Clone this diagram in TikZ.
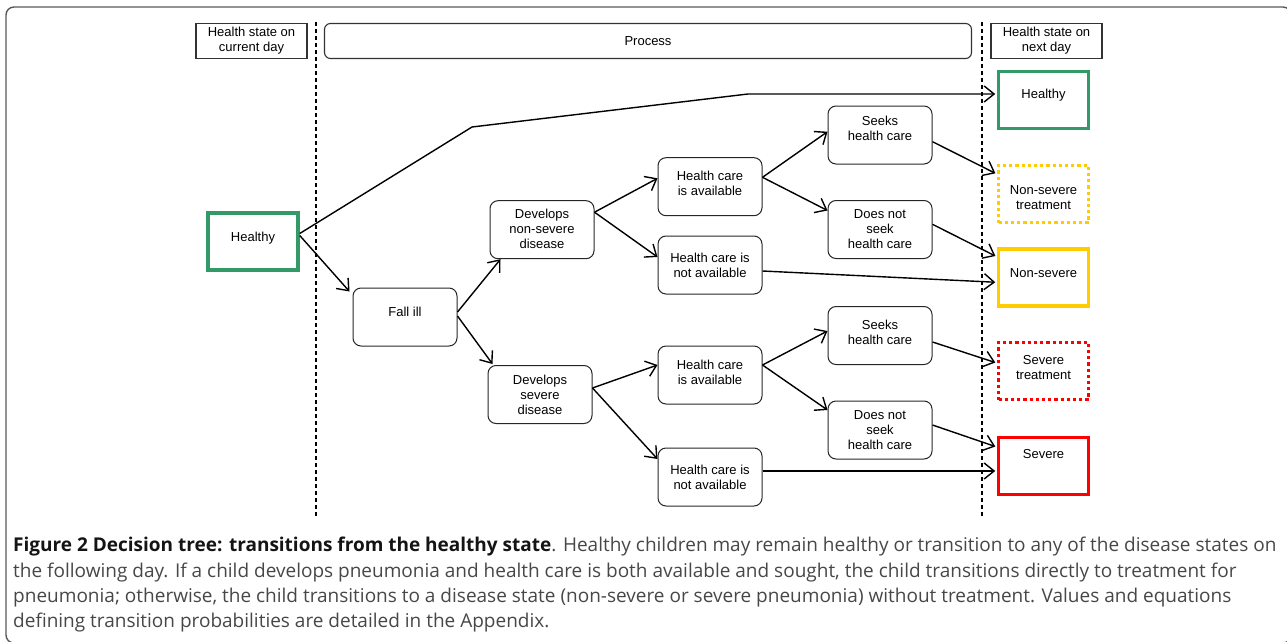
\documentclass[tikz,border=0pt]{standalone}
\usepackage{fontspec}
\setmainfont{Liberation Sans}
\newfontfamily\capfont{Open Sans}
\usetikzlibrary{arrows.meta,calc}
\definecolor{sgreen}{RGB}{51,153,102}
\definecolor{syellow}{RGB}{255,204,0}
\definecolor{sred}{RGB}{255,0,0}
\begin{document}
\begin{tikzpicture}[x=1pt,y=-1pt,
  txt/.style={font=\fontsize{13}{15}\selectfont, align=center, inner sep=0pt},
  hdr/.style={draw=black!80, line width=1.1pt, minimum width=111pt, minimum height=35pt, inner sep=0pt, txt},
  proc/.style={draw=black!85, line width=1pt, rounded corners=8pt, minimum width=104pt, minimum height=58pt, inner sep=0pt},
  st/.style={line width=3.5pt, minimum width=90pt, minimum height=57pt, inner sep=0pt},
  dotst/.style={st, dash pattern=on 3.2pt off 3pt},
  conn/.style={line width=1.4pt, -{Straight Barb[length=10pt,width=16pt]}},
  sconn/.style={conn, shorten >=1.5pt},
  sepline/.style={line width=1.1pt, dash pattern=on 4pt off 3pt}
]
\useasboundingbox (0,0) rectangle (1287,642);
% outer frame
\draw[black!65, line width=1.4pt, rounded corners=8pt] (6,7) rectangle (1291,643);

% headers
\node[hdr] (hcur) at (251.5,41) {Health state on\\current day};
\node[hdr, rounded corners=6pt, minimum width=647pt] (hproc) at (648,41) {Process};
\node[hdr] (hnext) at (1046.5,41) {Health state on\\next day};

% separators
\coordinate (s1t) at (316,22); \coordinate (s1b) at (316,518);
\coordinate (s2t) at (982,22); \coordinate (s2b) at (982,518);
\draw[sepline] (s1t) -- (s1b);
\draw[sepline] (s2t) -- (s2b);

% states
\node[st, draw=sgreen, label={[txt,yshift=3pt]center:Healthy}] (hL) at (253,241.5) {};
\node[st, draw=sgreen, label={[txt,yshift=5pt]center:Healthy}] (rH) at (1043.5,100) {};
\node[dotst, draw=syellow, label={[txt,yshift=-4pt]center:{Non-severe\\treatment}}] (rNT) at (1043.5,194) {};
\node[st, draw=syellow, label={[txt,yshift=4pt]center:Non-severe}] (rN) at (1043.5,277.5) {};
\node[dotst, draw=sred, label={[txt,yshift=3.7pt]center:{Severe\\treatment}}] (rST) at (1043.5,371) {};
\node[st, draw=sred, label={[txt,yshift=12pt]center:Severe}] (rS) at (1043.5,466) {};

% process nodes
\node[proc, label={[txt,yshift=5pt]center:Fall ill}] (fall) at (405,317) {};
\node[proc, label={[txt,yshift=1pt]center:{Develops\\non-severe\\disease}}] (devN) at (542,229.7) {};
\node[proc, label={[txt]center:{Develops\\severe\\disease}}] (devS) at (540,394.5) {};
\node[proc, label={[txt,yshift=3pt]center:{Health care\\is available}}] (hcaT) at (710,186.7) {};
\node[proc, label={[txt]center:{Health care is\\not available}}] (hcnT) at (710,265) {};
\node[proc, label={[txt,yshift=3pt]center:{Health care\\is available}}] (hcaB) at (710,375) {};
\node[proc, label={[txt]center:{Health care is\\not available}}] (hcnB) at (710,477) {};
\node[proc, label={[txt,yshift=7pt]center:{Seeks\\health care}}] (skT) at (880,135) {};
\node[proc, label={[txt]center:{Does not\\seek\\health care}}] (dnT) at (880,229.5) {};
\node[proc, label={[txt,yshift=3pt]center:{Seeks\\health care}}] (skB) at (880,335.5) {};
\node[proc, label={[txt]center:{Does not\\seek\\health care}}] (dnB) at (880,430) {};

% connectors
\coordinate (k1) at (472,127);
\coordinate (k2) at (748,94);
\draw[sconn] ([yshift=8pt]hL.east) -- (k1) -- (k2) -- ([yshift=6pt]rH.west);
\draw[conn] ([yshift=6pt]hL.east) -- ([xshift=-3pt,yshift=-4pt]fall.north west);
\draw[conn] ([yshift=5pt]fall.east) -- ([xshift=11pt]devN.south west);
\draw[conn] ([yshift=1pt]fall.east) -- ([xshift=5pt,yshift=1pt]devS.north west);
\draw[conn] ([yshift=17.5pt]devN.east) -- ([yshift=8.4pt]hcaT.west);
\draw[conn] ([yshift=17.5pt]devN.east) -- ([yshift=8pt]hcnT.west);
\draw[conn] ([yshift=6.5pt]devS.east) -- ([yshift=10pt]hcaB.west);
\draw[conn] ([yshift=6.5pt]devS.east) -- ([yshift=18pt]hcnB.west);
\draw[conn] ([yshift=9.4pt]hcaT.east) -- ([yshift=3.3pt]skT.west);
\draw[conn] ([yshift=9.4pt]hcaT.east) -- ([yshift=19pt]dnT.west);
\draw[conn] ([yshift=10pt]hcaB.east) -- ([yshift=4.5pt]skB.west);
\draw[conn] ([yshift=10pt]hcaB.east) -- ([yshift=20pt]dnB.west);
\draw[sconn] ([yshift=-6pt]hcnT.east) -- ([yshift=-4.8pt]rN.west);
\draw[sconn] ([yshift=-6.7pt]skT.east) -- ([yshift=20pt]rNT.west);
\draw[sconn] ([yshift=5.2pt]dnT.east) -- ([yshift=20.8pt]rN.west);
\draw[sconn] ([yshift=6pt]hcnB.east) -- ([yshift=-5pt]rS.west);
\draw[sconn] ([yshift=-6.5pt]skB.east) -- ([yshift=8pt]rST.west);
\draw[sconn] ([yshift=5pt]dnB.east) -- ([yshift=19pt]rS.west);

% caption
\node[anchor=north west, inner sep=0pt, align=left, text=black!72,
      font=\capfont\fontsize{19}{25.4}\selectfont] (cap) at (13,537)
{{\color{black!92}\bfseries Figure 2 Decision tree: transitions from the healthy state}. Healthy children may remain healthy or transition to any of the disease states on\\
the following day. If a child develops pneumonia and health care is both available and sought, the child transitions directly to treatment for\\
pneumonia; otherwise, the child transitions to a disease state (non-severe or severe pneumonia) without treatment. Values and equations\\
defining transition probabilities are detailed in the Appendix.};
\end{tikzpicture}
\end{document}
